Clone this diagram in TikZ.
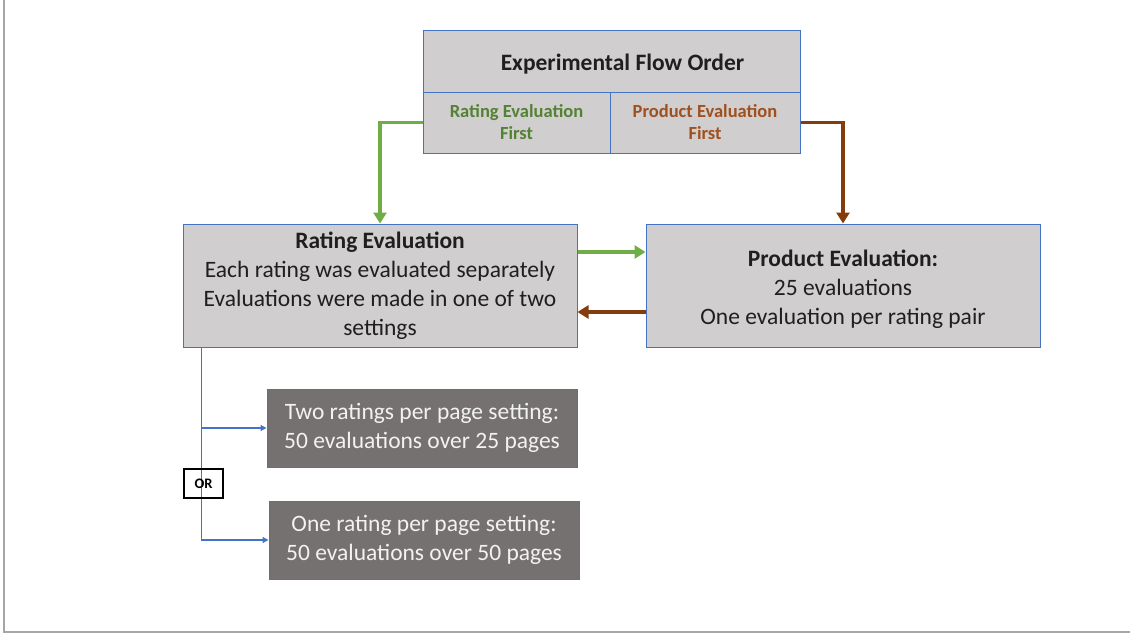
\documentclass[tikz,border=0pt]{standalone}
\usepackage{fontspec}
\setmainfont{Carlito}
\usetikzlibrary{arrows.meta,positioning}
\definecolor{boxgray}{HTML}{D0CECE}
\definecolor{boxblue}{HTML}{4472C4}
\definecolor{darkbox}{HTML}{767171}
\definecolor{greentxt}{HTML}{548235}
\definecolor{greenarr}{HTML}{70AD47}
\definecolor{browntxt}{HTML}{A0501E}
\definecolor{brownarr}{HTML}{843C0C}
\definecolor{framegray}{HTML}{A6A6A6}
\begin{document}
\begin{tikzpicture}[x=1pt,y=-1pt,
  cell/.style={draw=boxblue,line width=1pt,fill=boxgray,inner sep=0pt,align=center,text=black!88},
  lightbox/.style={cell,font=\fontsize{23.5}{29}\selectfont},
  darkrect/.style={draw=boxblue,line width=1pt,fill=darkbox,inner sep=0pt,align=center,text=white!95!black,font=\fontsize{23.5}{29}\selectfont,minimum width=310pt,minimum height=78pt},
  thickarr/.style={line width=3.2pt,-{Triangle[length=11pt,width=13pt]}},
  bluearr/.style={draw=boxblue,line width=1.2pt,-{Triangle[length=6pt,width=6pt]}}
]
\useasboundingbox (0,0) rectangle (1130,635);
\draw[framegray,line width=1.2pt] (4,0) -- (4,632) -- (1130,632);

\node[cell,minimum width=377pt,minimum height=62pt,
  label={[xshift=11pt,yshift=-3pt,font=\bfseries\fontsize{23.5}{28}\selectfont,text=black!88]center:Experimental Flow Order}] (title) at (611.5,61) {};
\node[cell,minimum width=187pt,minimum height=61pt,text=greentxt,font=\bfseries\fontsize{18.5}{22}\selectfont] (rl) at (516.5,122.5) {Rating Evaluation\\First};
\node[cell,minimum width=190pt,minimum height=61pt,text=browntxt,font=\bfseries\fontsize{18.5}{22}\selectfont] (pr) at (705,122.5) {Product Evaluation\\First};

\node[lightbox,minimum width=394pt,minimum height=123pt] (rating) at (380,285.5) {\textbf{Rating Evaluation}\\Each rating was evaluated separately\\Evaluations were made in one of two\\settings};
\node[lightbox,minimum width=394pt,minimum height=123pt,
  label={[yshift=-4pt,align=center,text=black!88,font=\fontsize{23.5}{29}\selectfont]center:\textbf{Product Evaluation:}\\25 evaluations\\One evaluation per rating pair}] (product) at (843,285.5) {};

\node[darkrect] (d1) at (422,428) {Two ratings per page setting:\\50 evaluations over 25 pages};
\node[darkrect] (d2) at (424,540) {One rating per page setting:\\50 evaluations over 50 pages};

\draw[thickarr,greenarr] (rl.west) -| (rating.north);
\draw[thickarr,brownarr] (pr.east) -| (product.north);
\draw[thickarr,greenarr] ([yshift=33.5pt]rating.east) -- ([yshift=33.5pt]product.west);
\draw[thickarr,brownarr] ([yshift=-26.5pt]product.west) -- ([yshift=-26.5pt]rating.east);

\coordinate (bstart) at ([xshift=19pt]rating.south west);
\draw[bluearr] (bstart) |- (d1.west);
\draw[bluearr] (bstart) |- (d2.west);

\node[draw=black,line width=1.2pt,minimum width=39pt,minimum height=29pt,inner sep=0pt,font=\bfseries\fontsize{14.5}{16}\selectfont] (or) at (203.5,483.5) {OR};
\end{tikzpicture}
\end{document}
